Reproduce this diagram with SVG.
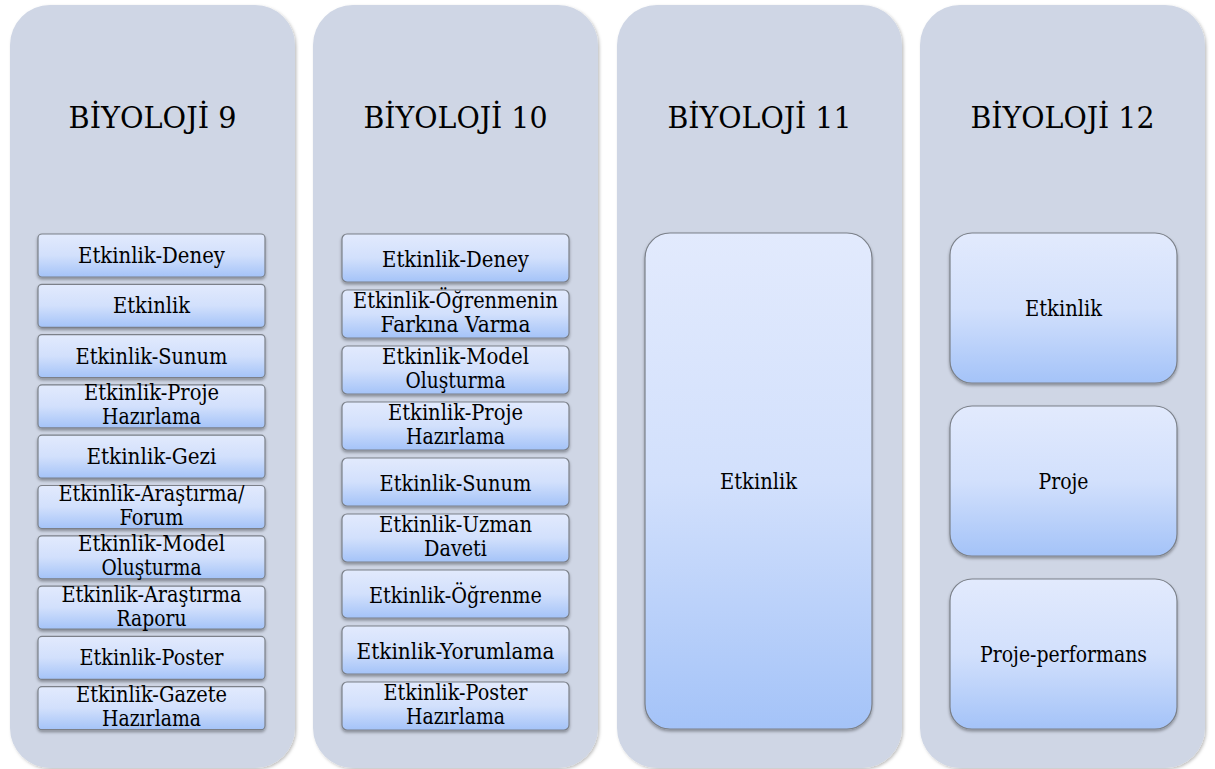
<svg xmlns="http://www.w3.org/2000/svg" width="1215" height="769" viewBox="0 0 1215 769">
  <defs>
    <linearGradient id="itemFill" x1="0" y1="0" x2="0" y2="1">
      <stop offset="0" stop-color="#e2eafd"/>
      <stop offset="0.5" stop-color="#d2e0fc"/>
      <stop offset="1" stop-color="#a4c3f8"/>
    </linearGradient>
    <filter id="panelShadow" x="-5%" y="-5%" width="110%" height="110%">
      <feDropShadow dx="1.5" dy="1.5" stdDeviation="1.5" flood-color="#000" flood-opacity="0.25"/>
    </filter>
    <filter id="itemShadow" x="-5%" y="-10%" width="110%" height="130%">
      <feDropShadow dx="0" dy="2" stdDeviation="1.5" flood-color="#000" flood-opacity="0.35"/>
    </filter>
  </defs>
  <style>
    .panel { fill: #cfd6e5; filter: url(#panelShadow); }
    .item { fill: url(#itemFill); stroke: #7b8089; stroke-width: 1.2; filter: url(#itemShadow); }
    .title { font-size: 29px; fill: #000; text-anchor: middle; }
    .lbl { font-size: 21.5px; fill: #000; text-anchor: middle; }
  </style>
  <rect width="1215" height="769" fill="#ffffff"/>

  <g font-family="DejaVu Serif, serif" lengthAdjust="spacingAndGlyphs">
  <!-- Column 1: BİYOLOJİ 9 -->
  <g id="col-biyoloji-9">
    <rect class="panel" x="10" y="5" width="285" height="763" rx="40"/>
    <text class="title" x="152.5" y="128" textLength="168" lengthAdjust="spacingAndGlyphs">BİYOLOJİ 9</text>
    <g id="b9-1"><rect class="item" x="38" y="234" width="227" height="43" rx="4"/><text class="lbl" x="151.5" y="263" textLength="147" lengthAdjust="spacingAndGlyphs">Etkinlik-Deney</text></g>
    <g id="b9-2"><rect class="item" x="38" y="284.3" width="227" height="43" rx="4"/><text class="lbl" x="151.5" y="313.3" textLength="77" lengthAdjust="spacingAndGlyphs">Etkinlik</text></g>
    <g id="b9-3"><rect class="item" x="38" y="334.6" width="227" height="43" rx="4"/><text class="lbl" x="151.5" y="363.6" textLength="152" lengthAdjust="spacingAndGlyphs">Etkinlik-Sunum</text></g>
    <g id="b9-4"><rect class="item" x="38" y="384.9" width="227" height="43" rx="4"/><text class="lbl" x="151.5" y="400.4" textLength="135" lengthAdjust="spacingAndGlyphs">Etkinlik-Proje</text><text class="lbl" x="151.5" y="424.4" textLength="99" lengthAdjust="spacingAndGlyphs">Hazırlama</text></g>
    <g id="b9-5"><rect class="item" x="38" y="435.2" width="227" height="43" rx="4"/><text class="lbl" x="151.5" y="464.2" textLength="130" lengthAdjust="spacingAndGlyphs">Etkinlik-Gezi</text></g>
    <g id="b9-6"><rect class="item" x="38" y="485.5" width="227" height="43" rx="4"/><text class="lbl" x="151.5" y="501" textLength="186" lengthAdjust="spacingAndGlyphs">Etkinlik-Araştırma/</text><text class="lbl" x="151.5" y="525" textLength="64" lengthAdjust="spacingAndGlyphs">Forum</text></g>
    <g id="b9-7"><rect class="item" x="38" y="535.8" width="227" height="43" rx="4"/><text class="lbl" x="151.5" y="551.3" textLength="147" lengthAdjust="spacingAndGlyphs">Etkinlik-Model</text><text class="lbl" x="151.5" y="575.3" textLength="100" lengthAdjust="spacingAndGlyphs">Oluşturma</text></g>
    <g id="b9-8"><rect class="item" x="38" y="586.1" width="227" height="43" rx="4"/><text class="lbl" x="151.5" y="601.6" textLength="180" lengthAdjust="spacingAndGlyphs">Etkinlik-Araştırma</text><text class="lbl" x="151.5" y="625.6" textLength="70" lengthAdjust="spacingAndGlyphs">Raporu</text></g>
    <g id="b9-9"><rect class="item" x="38" y="636.4" width="227" height="43" rx="4"/><text class="lbl" x="151.5" y="665.4" textLength="144" lengthAdjust="spacingAndGlyphs">Etkinlik-Poster</text></g>
    <g id="b9-10"><rect class="item" x="38" y="686.7" width="227" height="43" rx="4"/><text class="lbl" x="151.5" y="702.2" textLength="151" lengthAdjust="spacingAndGlyphs">Etkinlik-Gazete</text><text class="lbl" x="151.5" y="726.2" textLength="99" lengthAdjust="spacingAndGlyphs">Hazırlama</text></g>
  </g>

  <!-- Column 2: BİYOLOJİ 10 -->
  <g id="col-biyoloji-10">
    <rect class="panel" x="313" y="5" width="285" height="763" rx="40"/>
    <text class="title" x="455.5" y="128" textLength="184" lengthAdjust="spacingAndGlyphs">BİYOLOJİ 10</text>
    <g id="b10-1"><rect class="item" x="342" y="234" width="227" height="48" rx="5"/><text class="lbl" x="455.5" y="267" textLength="147" lengthAdjust="spacingAndGlyphs">Etkinlik-Deney</text></g>
    <g id="b10-2"><rect class="item" x="342" y="290" width="227" height="48" rx="5"/><text class="lbl" x="455.5" y="308" textLength="205" lengthAdjust="spacingAndGlyphs">Etkinlik-Öğrenmenin</text><text class="lbl" x="455.5" y="332" textLength="150" lengthAdjust="spacingAndGlyphs">Farkına Varma</text></g>
    <g id="b10-3"><rect class="item" x="342" y="346" width="227" height="48" rx="5"/><text class="lbl" x="455.5" y="364" textLength="147" lengthAdjust="spacingAndGlyphs">Etkinlik-Model</text><text class="lbl" x="455.5" y="388" textLength="100" lengthAdjust="spacingAndGlyphs">Oluşturma</text></g>
    <g id="b10-4"><rect class="item" x="342" y="402" width="227" height="48" rx="5"/><text class="lbl" x="455.5" y="420" textLength="135" lengthAdjust="spacingAndGlyphs">Etkinlik-Proje</text><text class="lbl" x="455.5" y="444" textLength="99" lengthAdjust="spacingAndGlyphs">Hazırlama</text></g>
    <g id="b10-5"><rect class="item" x="342" y="458" width="227" height="48" rx="5"/><text class="lbl" x="455.5" y="491" textLength="152" lengthAdjust="spacingAndGlyphs">Etkinlik-Sunum</text></g>
    <g id="b10-6"><rect class="item" x="342" y="514" width="227" height="48" rx="5"/><text class="lbl" x="455.5" y="532" textLength="153" lengthAdjust="spacingAndGlyphs">Etkinlik-Uzman</text><text class="lbl" x="455.5" y="556" textLength="63" lengthAdjust="spacingAndGlyphs">Daveti</text></g>
    <g id="b10-7"><rect class="item" x="342" y="570" width="227" height="48" rx="5"/><text class="lbl" x="455.5" y="603" textLength="173" lengthAdjust="spacingAndGlyphs">Etkinlik-Öğrenme</text></g>
    <g id="b10-8"><rect class="item" x="342" y="626" width="227" height="48" rx="5"/><text class="lbl" x="455.5" y="659" textLength="198" lengthAdjust="spacingAndGlyphs">Etkinlik-Yorumlama</text></g>
    <g id="b10-9"><rect class="item" x="342" y="682" width="227" height="48" rx="5"/><text class="lbl" x="455.5" y="700" textLength="144" lengthAdjust="spacingAndGlyphs">Etkinlik-Poster</text><text class="lbl" x="455.5" y="724" textLength="99" lengthAdjust="spacingAndGlyphs">Hazırlama</text></g>
  </g>

  <!-- Column 3: BİYOLOJİ 11 -->
  <g id="col-biyoloji-11">
    <rect class="panel" x="617" y="5" width="285" height="763" rx="40"/>
    <text class="title" x="759.5" y="128" textLength="184" lengthAdjust="spacingAndGlyphs">BİYOLOJİ 11</text>
    <g id="b11-1"><rect class="item" x="645" y="233" width="227" height="496" rx="25"/><text class="lbl" x="758.5" y="489" textLength="77" lengthAdjust="spacingAndGlyphs">Etkinlik</text></g>
  </g>

  <!-- Column 4: BİYOLOJİ 12 -->
  <g id="col-biyoloji-12">
    <rect class="panel" x="920" y="5" width="285" height="763" rx="40"/>
    <text class="title" x="1062.5" y="128" textLength="184" lengthAdjust="spacingAndGlyphs">BİYOLOJİ 12</text>
    <g id="b12-1"><rect class="item" x="950" y="233" width="227" height="150" rx="22"/><text class="lbl" x="1063.5" y="316" textLength="77" lengthAdjust="spacingAndGlyphs">Etkinlik</text></g>
    <g id="b12-2"><rect class="item" x="950" y="406" width="227" height="150" rx="22"/><text class="lbl" x="1063.5" y="489" textLength="50" lengthAdjust="spacingAndGlyphs">Proje</text></g>
    <g id="b12-3"><rect class="item" x="950" y="579" width="227" height="150" rx="22"/><text class="lbl" x="1063.5" y="662" textLength="167" lengthAdjust="spacingAndGlyphs">Proje-performans</text></g>
  </g>
  </g>

  <!-- no connectors in this layout -->
  <g id="connectors"/>
</svg>
